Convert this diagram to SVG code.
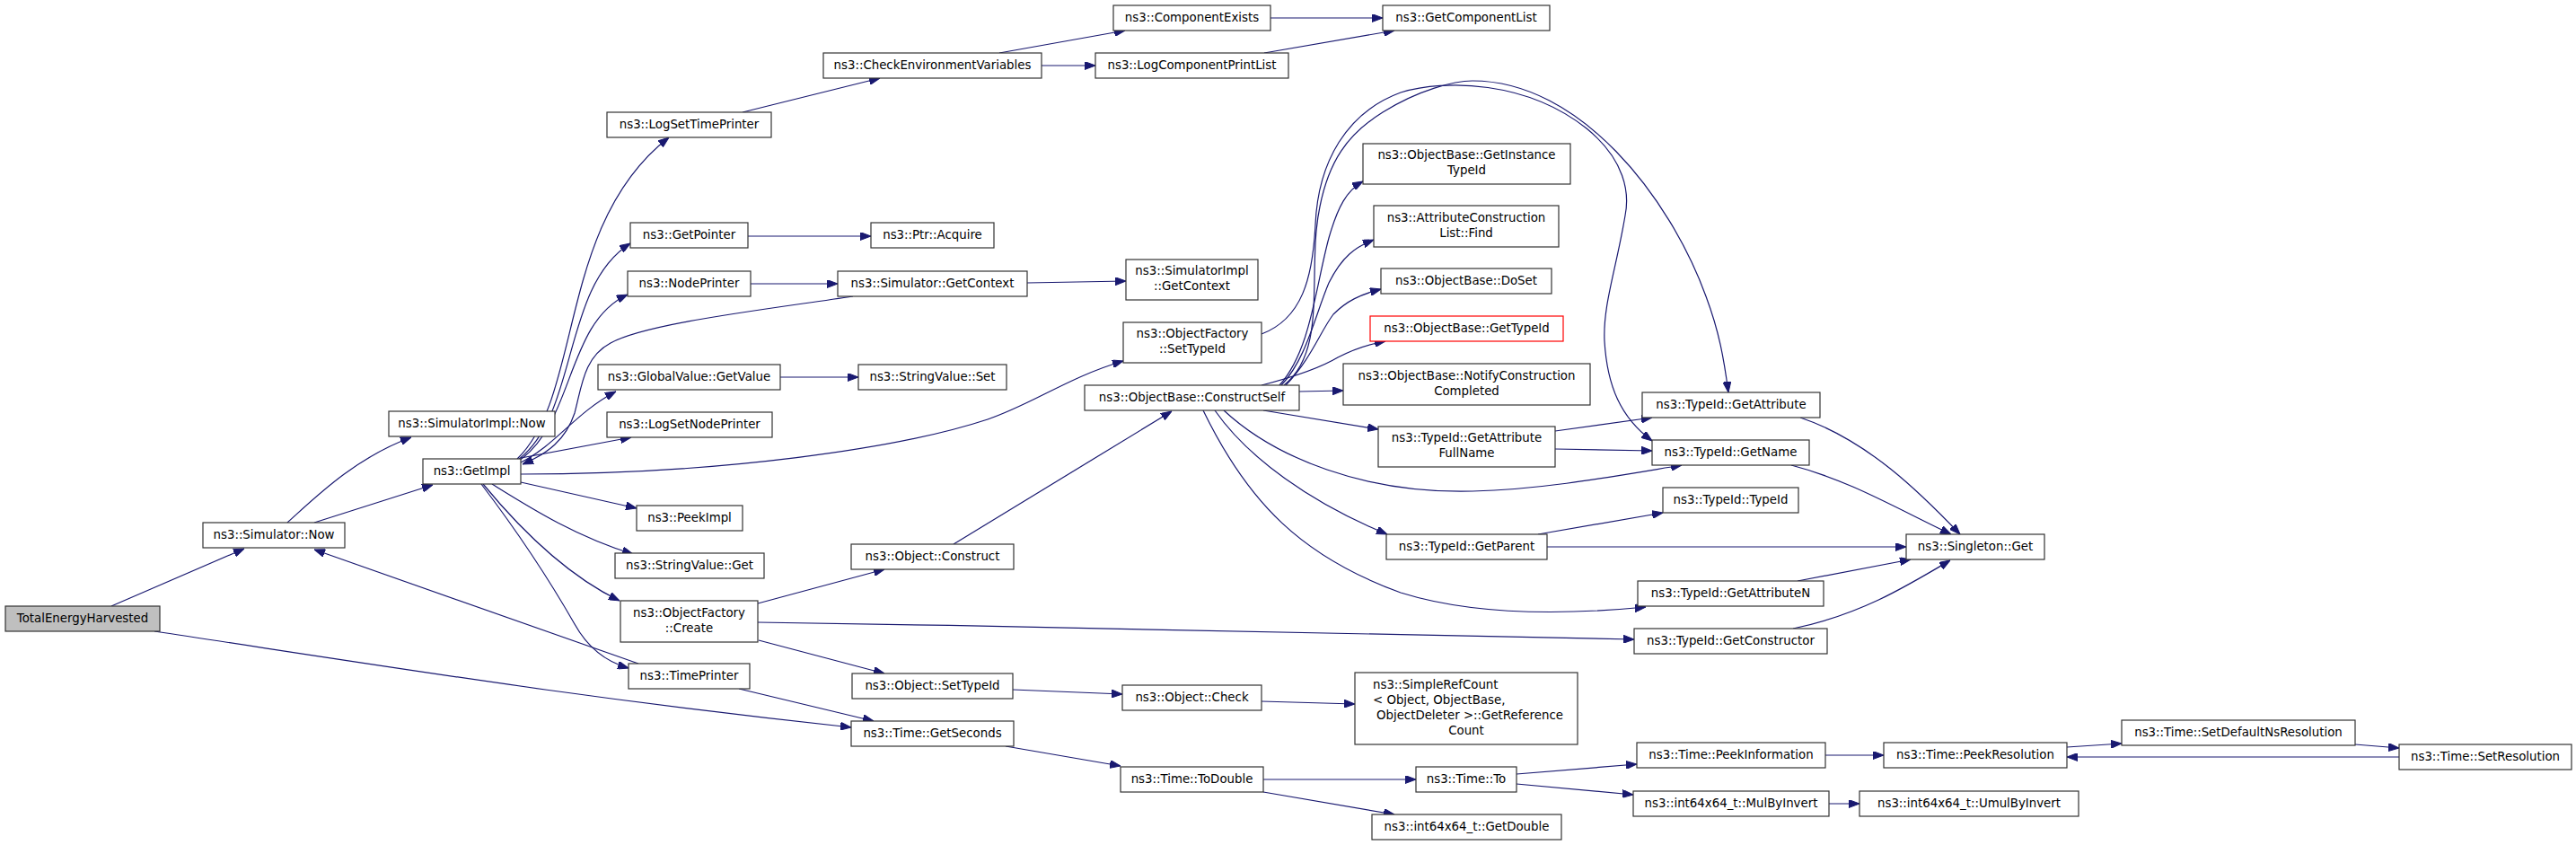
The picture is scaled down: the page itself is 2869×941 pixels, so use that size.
<svg xmlns="http://www.w3.org/2000/svg" width="2869" height="941" viewBox="0 0 2869 941">
<style>
.n rect{fill:#fff;stroke:#333;stroke-width:1.2}
.n text{font-family:"DejaVu Sans",sans-serif;font-size:13.33px;fill:#000;text-anchor:middle}
.n text.l{text-anchor:start}
#n1 rect{fill:#bfbfbf}
#n30 rect{stroke:#ff0000}
.e path{fill:none;stroke:#191970;stroke-width:1.2;marker-end:url(#a)}
</style>
<defs>
<marker id="a" viewBox="0 0 12 9" refX="12" refY="4.5" markerWidth="12" markerHeight="9" markerUnits="userSpaceOnUse" orient="auto"><path d="M0,0L12,4.5L0,9z" fill="#191970" stroke="#191970" stroke-width="1"/></marker>
</defs>
<rect width="2869" height="941" fill="#fff"/>
<g class="e">
<path d="M124,675 L272,611"/>
<path d="M172,703 C450,745 650,778 948,810"/>
<path d="M320,582 C350,555 395,510 458,487"/>
<path d="M350,582 L482,540"/>
<path d="M576,511 C650,440 620,250 745,153"/>
<path d="M577,512 C645,460 625,320 702,271"/>
<path d="M578,513 C640,470 630,360 699,328"/>
<path d="M950,330 C850,345 720,360 680,382 C650,398 648,430 640,460 C630,490 610,505 582,517"/>
<path d="M580,515 C620,495 640,460 686,436"/>
<path d="M580,510 L703,487"/>
<path d="M580,528 C800,528 1000,500 1100,467 C1150,450 1190,420 1251,402"/>
<path d="M580,537 L709,566"/>
<path d="M548,539 C590,565 640,597 705,617"/>
<path d="M538,539 C580,590 630,640 690,669"/>
<path d="M536,539 C590,610 620,660 640,695 C655,722 675,737 700,744"/>
<path d="M711,739 L350,612"/>
<path d="M827,125 L980,87"/>
<path d="M1113,59 L1253,34"/>
<path d="M1160,73 L1220,73"/>
<path d="M1415,20 L1540,20"/>
<path d="M1408,59 L1553,34"/>
<path d="M833,263 L970,263"/>
<path d="M836,316 L933,316"/>
<path d="M1144,315 L1254,313"/>
<path d="M869,420 L956,420"/>
<path d="M844,672 L985,634"/>
<path d="M844,693 C1200,698 1600,708 1820,712"/>
<path d="M845,713 L985,750"/>
<path d="M823,767 L973,803"/>
<path d="M1062,606 L1305,458"/>
<path d="M1405,372 C1450,355 1462,310 1465,250 C1468,180 1500,125 1560,103 C1610,88 1700,90 1767,143 C1810,178 1815,215 1810,240 C1800,300 1785,340 1787,380 C1790,430 1805,465 1840,491"/>
<path d="M1430,429 C1480,390 1455,300 1470,230 C1480,180 1500,150 1540,125 C1580,100 1620,90 1640,90 C1760,90 1860,220 1900,330 C1915,370 1920,400 1925,437"/>
<path d="M1425,429 C1460,390 1465,320 1480,265 C1490,230 1500,212 1518,202"/>
<path d="M1427,429 C1455,400 1465,350 1480,315 C1495,285 1510,275 1530,267"/>
<path d="M1432,429 C1460,400 1470,370 1485,350 C1500,335 1515,328 1538,322"/>
<path d="M1405,429 C1440,420 1470,410 1490,398 C1505,390 1520,384 1543,380"/>
<path d="M1447,436 L1496,435"/>
<path d="M1407,457 L1535,478"/>
<path d="M1363,457 C1420,510 1520,550 1640,547 C1720,545 1800,530 1873,518"/>
<path d="M1353,457 C1390,510 1460,560 1545,595"/>
<path d="M1340,457 C1390,560 1450,620 1560,660 C1640,685 1740,685 1833,676"/>
<path d="M1732,480 L1840,465"/>
<path d="M1732,500 L1840,502"/>
<path d="M2005,465 C2080,490 2140,550 2183,595"/>
<path d="M1995,518 C2060,535 2110,565 2173,595"/>
<path d="M1713,595 L1852,571"/>
<path d="M1723,609 L2123,609"/>
<path d="M2002,647 L2128,623"/>
<path d="M1997,700 C2070,685 2120,655 2172,624"/>
<path d="M1128,768 L1250,773"/>
<path d="M1405,781 L1509,784"/>
<path d="M1120,831 L1248,853"/>
<path d="M1407,868 L1577,868"/>
<path d="M1407,882 L1553,907"/>
<path d="M1689,862 L1823,851"/>
<path d="M1689,873 L1819,885"/>
<path d="M2033,841 L2098,841"/>
<path d="M2037,895 L2071,895"/>
<path d="M2302,832 L2363,828"/>
<path d="M2623,829 L2672,833"/>
<path d="M2672,843 L2302,843"/>
</g>
<g class="n" id="n1"><rect x="6" y="675" width="172" height="28"/><text x="92" y="693">TotalEnergyHarvested</text></g>
<g class="n" id="n2"><rect x="226" y="582" width="158" height="28"/><text x="305" y="600">ns3::Simulator::Now</text></g>
<g class="n" id="n3"><rect x="433" y="458" width="185" height="28"/><text x="525.5" y="476">ns3::SimulatorImpl::Now</text></g>
<g class="n" id="n4"><rect x="471" y="511" width="109" height="28"/><text x="525.5" y="529">ns3::GetImpl</text></g>
<g class="n" id="n5"><rect x="676" y="125" width="183" height="28"/><text x="767.5" y="143">ns3::LogSetTimePrinter</text></g>
<g class="n" id="n6"><rect x="917" y="59" width="243" height="28"/><text x="1038.5" y="77">ns3::CheckEnvironmentVariables</text></g>
<g class="n" id="n7"><rect x="1240" y="6" width="175" height="28"/><text x="1327.5" y="24">ns3::ComponentExists</text></g>
<g class="n" id="n8"><rect x="1220" y="59" width="215" height="28"/><text x="1327.5" y="77">ns3::LogComponentPrintList</text></g>
<g class="n" id="n9"><rect x="1540" y="6" width="186" height="28"/><text x="1633" y="24">ns3::GetComponentList</text></g>
<g class="n" id="n10"><rect x="702" y="248" width="131" height="28"/><text x="767.5" y="266">ns3::GetPointer</text></g>
<g class="n" id="n11"><rect x="970" y="248" width="137" height="28"/><text x="1038.5" y="266">ns3::Ptr::Acquire</text></g>
<g class="n" id="n12"><rect x="699" y="302" width="137" height="28"/><text x="767.5" y="320">ns3::NodePrinter</text></g>
<g class="n" id="n13"><rect x="933" y="302" width="211" height="28"/><text x="1038.5" y="320">ns3::Simulator::GetContext</text></g>
<g class="n" id="n14"><rect x="1254" y="289" width="147" height="45"/><text x="1327.5" y="306">ns3::SimulatorImpl</text><text x="1327.5" y="323">::GetContext</text></g>
<g class="n" id="n15"><rect x="666" y="406" width="203" height="28"/><text x="767.5" y="424">ns3::GlobalValue::GetValue</text></g>
<g class="n" id="n16"><rect x="956" y="406" width="165" height="28"/><text x="1038.5" y="424">ns3::StringValue::Set</text></g>
<g class="n" id="n17"><rect x="676" y="459" width="184" height="28"/><text x="768" y="477">ns3::LogSetNodePrinter</text></g>
<g class="n" id="n18"><rect x="709" y="563" width="118" height="28"/><text x="768" y="581">ns3::PeekImpl</text></g>
<g class="n" id="n19"><rect x="685" y="616" width="166" height="28"/><text x="768" y="634">ns3::StringValue::Get</text></g>
<g class="n" id="n20"><rect x="691" y="669" width="153" height="46"/><text x="767.5" y="687">ns3::ObjectFactory</text><text x="767.5" y="704">::Create</text></g>
<g class="n" id="n21"><rect x="700" y="739" width="135" height="28"/><text x="767.5" y="757">ns3::TimePrinter</text></g>
<g class="n" id="n22"><rect x="948" y="606" width="181" height="28"/><text x="1038.5" y="624">ns3::Object::Construct</text></g>
<g class="n" id="n23"><rect x="949" y="750" width="179" height="28"/><text x="1038.5" y="768">ns3::Object::SetTypeId</text></g>
<g class="n" id="n24"><rect x="948" y="803" width="181" height="28"/><text x="1038.5" y="821">ns3::Time::GetSeconds</text></g>
<g class="n" id="n25"><rect x="1251" y="359" width="154" height="45"/><text x="1328" y="376">ns3::ObjectFactory</text><text x="1328" y="393">::SetTypeId</text></g>
<g class="n" id="n26"><rect x="1208" y="429" width="239" height="28"/><text x="1327.5" y="447">ns3::ObjectBase::ConstructSelf</text></g>
<g class="n" id="n27"><rect x="1518" y="160" width="231" height="45"/><text x="1633.5" y="177">ns3::ObjectBase::GetInstance</text><text x="1633.5" y="194">TypeId</text></g>
<g class="n" id="n28"><rect x="1530" y="229" width="206" height="46"/><text x="1633" y="247">ns3::AttributeConstruction</text><text x="1633" y="264">List::Find</text></g>
<g class="n" id="n29"><rect x="1538" y="299" width="190" height="28"/><text x="1633" y="317">ns3::ObjectBase::DoSet</text></g>
<g class="n" id="n30"><rect x="1526" y="352" width="215" height="28"/><text x="1633.5" y="370">ns3::ObjectBase::GetTypeId</text></g>
<g class="n" id="n31"><rect x="1496" y="405" width="275" height="46"/><text x="1633.5" y="423">ns3::ObjectBase::NotifyConstruction</text><text x="1633.5" y="440">Completed</text></g>
<g class="n" id="n32"><rect x="1829" y="437" width="198" height="28"/><text x="1928" y="455">ns3::TypeId::GetAttribute</text></g>
<g class="n" id="n33"><rect x="1840" y="490" width="175" height="28"/><text x="1927.5" y="508">ns3::TypeId::GetName</text></g>
<g class="n" id="n34"><rect x="1535" y="475" width="197" height="45"/><text x="1633.5" y="492">ns3::TypeId::GetAttribute</text><text x="1633.5" y="509">FullName</text></g>
<g class="n" id="n35"><rect x="1852" y="543" width="151" height="28"/><text x="1927.5" y="561">ns3::TypeId::TypeId</text></g>
<g class="n" id="n36"><rect x="1544" y="595" width="179" height="28"/><text x="1633.5" y="613">ns3::TypeId::GetParent</text></g>
<g class="n" id="n37"><rect x="2123" y="595" width="154" height="28"/><text x="2200" y="613">ns3::Singleton::Get</text></g>
<g class="n" id="n38"><rect x="1824" y="647" width="207" height="28"/><text x="1927.5" y="665">ns3::TypeId::GetAttributeN</text></g>
<g class="n" id="n39"><rect x="1820" y="700" width="215" height="28"/><text x="1927.5" y="718">ns3::TypeId::GetConstructor</text></g>
<g class="n" id="n40"><rect x="1250" y="763" width="155" height="28"/><text x="1327.5" y="781">ns3::Object::Check</text></g>
<g class="n" id="n41"><rect x="1509" y="749" width="248" height="80"/><text class="l" x="1529" y="767">ns3::SimpleRefCount</text><text class="l" x="1529" y="784">&lt; Object, ObjectBase,</text><text class="l" x="1533" y="801">ObjectDeleter &gt;::GetReference</text><text x="1633" y="818">Count</text></g>
<g class="n" id="n42"><rect x="1248" y="854" width="159" height="28"/><text x="1327.5" y="872">ns3::Time::ToDouble</text></g>
<g class="n" id="n43"><rect x="1577" y="854" width="112" height="28"/><text x="1633" y="872">ns3::Time::To</text></g>
<g class="n" id="n44"><rect x="1528" y="907" width="211" height="28"/><text x="1633.5" y="925">ns3::int64x64_t::GetDouble</text></g>
<g class="n" id="n45"><rect x="1823" y="827" width="210" height="28"/><text x="1928" y="845">ns3::Time::PeekInformation</text></g>
<g class="n" id="n46"><rect x="1819" y="881" width="218" height="28"/><text x="1928" y="899">ns3::int64x64_t::MulByInvert</text></g>
<g class="n" id="n47"><rect x="2098" y="827" width="204" height="28"/><text x="2200" y="845">ns3::Time::PeekResolution</text></g>
<g class="n" id="n48"><rect x="2363" y="802" width="260" height="28"/><text x="2493" y="820">ns3::Time::SetDefaultNsResolution</text></g>
<g class="n" id="n49"><rect x="2672" y="829" width="192" height="28"/><text x="2768" y="847">ns3::Time::SetResolution</text></g>
<g class="n" id="n50"><rect x="2071" y="881" width="244" height="28"/><text x="2193" y="899">ns3::int64x64_t::UmulByInvert</text></g>
</svg>
